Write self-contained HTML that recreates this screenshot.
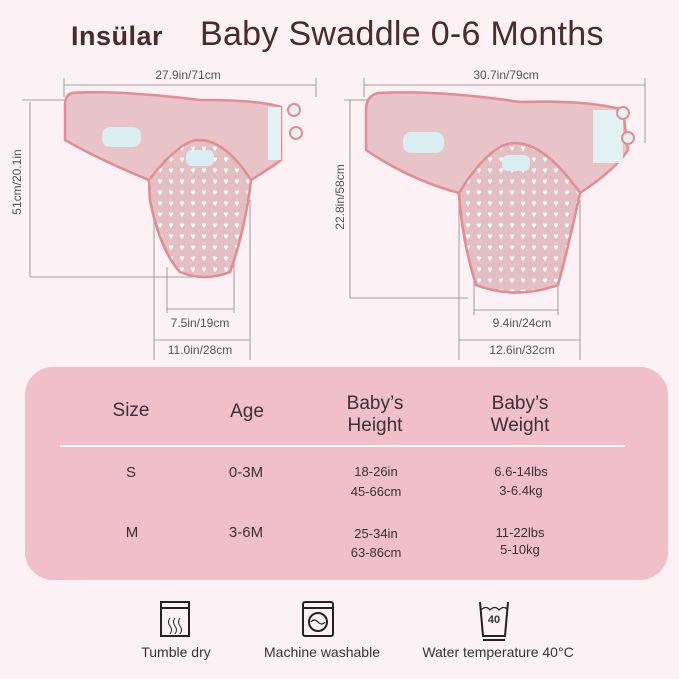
<!DOCTYPE html>
<html><head><style>
*{margin:0;padding:0}
body{width:679px;height:679px;background:#fcf1f4;position:relative;overflow:hidden;font-family:"Liberation Sans",sans-serif;color:#3a3035}
.t{position:absolute;white-space:nowrap;transform:translateX(-50%);text-align:center}
.d{color:#555;font-size:12px}
</style></head><body>
<div style="position:absolute;left:71px;top:21px;font-size:27px;font-weight:bold;color:#4a2b2e;letter-spacing:0.5px">Insülar</div>
<div style="position:absolute;left:200px;top:15px;font-size:34px;color:#4a2b2e;letter-spacing:0.3px">Baby Swaddle 0-6 Months</div>

<svg width="679" height="679" style="position:absolute;left:0;top:0">
<defs><pattern id="h" width="11" height="11" patternUnits="userSpaceOnUse"><path d="M4 5 l2 3 l2 -3 a1 1 0 0 0 -2 -1 a1 1 0 0 0 -2 1z" fill="#fff"/></pattern></defs>
<g stroke="#888" stroke-width="0.8" fill="none">
<line x1="64" y1="78" x2="64" y2="97"/><line x1="316" y1="78" x2="316" y2="97"/><line x1="64" y1="85" x2="316" y2="85"/>
<line x1="22" y1="100" x2="64" y2="100"/><line x1="30" y1="277" x2="193" y2="277"/><line x1="30" y1="102" x2="30" y2="277"/>
<line x1="167" y1="267" x2="167" y2="313"/><line x1="234" y1="257" x2="234" y2="313"/><line x1="167" y1="309" x2="234" y2="309"/>
<line x1="154" y1="200" x2="154" y2="360"/><line x1="250" y1="200" x2="250" y2="360"/><line x1="154" y1="340" x2="250" y2="340"/>
<line x1="364" y1="78" x2="364" y2="97"/><line x1="645" y1="78" x2="645" y2="143"/><line x1="364" y1="85" x2="645" y2="85"/>
<line x1="344" y1="100" x2="381" y2="100"/><line x1="350" y1="298" x2="468" y2="298"/><line x1="350" y1="100" x2="350" y2="298"/>
<line x1="474" y1="267" x2="474" y2="315"/><line x1="558" y1="267" x2="558" y2="315"/><line x1="474" y1="310" x2="558" y2="310"/>
<line x1="459" y1="200" x2="459" y2="360"/><line x1="580" y1="200" x2="580" y2="360"/><line x1="459" y1="340" x2="580" y2="340"/>
</g>
<!-- left swaddle -->
<path d="M72 93 Q65 95 65 105 L65 140 Q100 160 149 180 L150 200 Q160 250 180 272 Q205 282 230 272 Q245 230 251 180 Q275 165 281 160 L281 107 Q260 100 200 100 Q120 90 72 93Z" fill="#e8c3c8" stroke="#e38c94" stroke-width="2.5"/>
<path d="M149 180 Q180 140 199 140 Q225 140 251 180 Q245 230 230 272 Q205 282 180 272 Q160 250 150 200Z" fill="#e3bfc4"/>
<path d="M149 180 Q180 140 199 140 Q225 140 251 180 Q245 230 230 272 Q205 282 180 272 Q160 250 150 200Z" fill="url(#h)" stroke="#e38c94" stroke-width="2.5"/>
<rect x="186" y="150" width="28" height="16" rx="6" fill="#d8eef0"/>
<rect x="102" y="127" width="39" height="20" rx="8" fill="#d8eef0"/>
<rect x="268" y="107" width="13" height="53" fill="#e2f1f2"/>
<circle cx="294" cy="110" r="6" fill="#e2f1f2" stroke="#e38c94" stroke-width="2"/><circle cx="296" cy="133" r="6" fill="#e2f1f2" stroke="#e38c94" stroke-width="2"/>
<!-- right swaddle -->
<path d="M378 93 Q366 96 366 110 L366 150 Q410 180 459 193 Q462 240 476 285 Q515 300 558 285 Q570 240 580 193 Q615 170 628 150 L623 110 Q590 100 520 102 Q440 90 378 93Z" fill="#e8c3c8" stroke="#e38c94" stroke-width="2.5"/>
<path d="M459 193 Q490 143 515 143 Q545 143 580 193 Q570 240 558 285 Q515 300 476 285 Q462 240 459 193Z" fill="#e3bfc4"/>
<path d="M459 193 Q490 143 515 143 Q545 143 580 193 Q570 240 558 285 Q515 300 476 285 Q462 240 459 193Z" fill="url(#h)" stroke="#e38c94" stroke-width="2.5"/>
<rect x="502" y="155" width="28" height="16" rx="6" fill="#d8eef0"/>
<rect x="403" y="132" width="41" height="21" rx="8" fill="#d8eef0"/>
<rect x="593" y="110" width="30" height="53" fill="#e2f1f2"/>
<circle cx="623" cy="113" r="6" fill="#e2f1f2" stroke="#e38c94" stroke-width="2"/><circle cx="628" cy="138" r="6" fill="#e2f1f2" stroke="#e38c94" stroke-width="2"/>
</svg>
<div class="t d" style="left:188px;top:68px">27.9in/71cm</div>
<div class="t d" style="left:506px;top:68px">30.7in/79cm</div>
<div class="t d" style="left:200px;top:316px">7.5in/19cm</div>
<div class="t d" style="left:200px;top:343px">11.0in/28cm</div>
<div class="t d" style="left:522px;top:316px">9.4in/24cm</div>
<div class="t d" style="left:522px;top:343px">12.6in/32cm</div>
<div class="d" style="position:absolute;left:17px;top:182px;transform:translate(-50%,-50%) rotate(-90deg);white-space:nowrap">51cm/20.1in</div>
<div class="d" style="position:absolute;left:340px;top:197px;transform:translate(-50%,-50%) rotate(-90deg);white-space:nowrap">22.8in/58cm</div>

<div style="position:absolute;left:25px;top:367px;width:643px;height:213px;border-radius:28px;background:#f0bfca"></div>
<div style="position:absolute;left:60px;top:445px;width:565px;height:2px;background:#fff;opacity:.9"></div>
<div class="t" style="left:131px;top:400px;font-size:19px">Size</div>
<div class="t" style="left:247px;top:401px;font-size:19px">Age</div>
<div class="t" style="left:375px;top:393px;font-size:19px;line-height:22px">Baby’s<br>Height</div>
<div class="t" style="left:520px;top:393px;font-size:19px;line-height:22px">Baby’s<br>Weight</div>
<div class="t" style="left:131px;top:464px;font-size:15px">S</div>
<div class="t" style="left:246px;top:464px;font-size:15px">0-3M</div>
<div class="t" style="left:376px;top:462px;font-size:13px;line-height:20px">18-26in<br>45-66cm</div>
<div class="t" style="left:521px;top:462px;font-size:13px;line-height:19px">6.6-14lbs<br>3-6.4kg</div>
<div class="t" style="left:132px;top:524px;font-size:15px">M</div>
<div class="t" style="left:246px;top:524px;font-size:15px">3-6M</div>
<div class="t" style="left:376px;top:524px;font-size:13px;line-height:19px">25-34in<br>63-86cm</div>
<div class="t" style="left:520px;top:524px;font-size:13px;line-height:17px">11-22lbs<br>5-10kg</div>

<svg width="679" height="60" style="position:absolute;left:0;top:598px" stroke="#222" stroke-width="2" fill="none">
<rect x="161" y="4" width="28" height="34"/><line x1="161" y1="10" x2="189" y2="10"/>
<path d="M170 20 q-3 4 0 8 q3 4 0 8 M175 20 q-3 4 0 8 q3 4 0 8 M180 20 q-3 4 0 8 q3 4 0 8" stroke-width="1"/>
<rect x="303" y="4" width="30" height="34" rx="2"/><line x1="303" y1="10" x2="333" y2="10"/>
<circle cx="318" cy="24" r="9"/><path d="M311 24 q3 -4 7 0 q4 4 7 0" stroke-width="1.2"/>
<path d="M480 4 l3 34 h22 l3 -34"/><path d="M481 12 q5 -5 9 0 q5 -5 9 0 q5 -5 9 0" stroke-width="1.2"/>
<line x1="483" y1="42" x2="505" y2="42"/>
</svg>
<div class="t" style="left:494px;top:614px;font-size:11px;font-weight:bold">40</div>
<div class="t" style="left:176px;top:644px;font-size:14px">Tumble dry</div>
<div class="t" style="left:322px;top:644px;font-size:14px">Machine washable</div>
<div class="t" style="left:498px;top:644px;font-size:14px">Water temperature 40°C</div>
</body></html>
